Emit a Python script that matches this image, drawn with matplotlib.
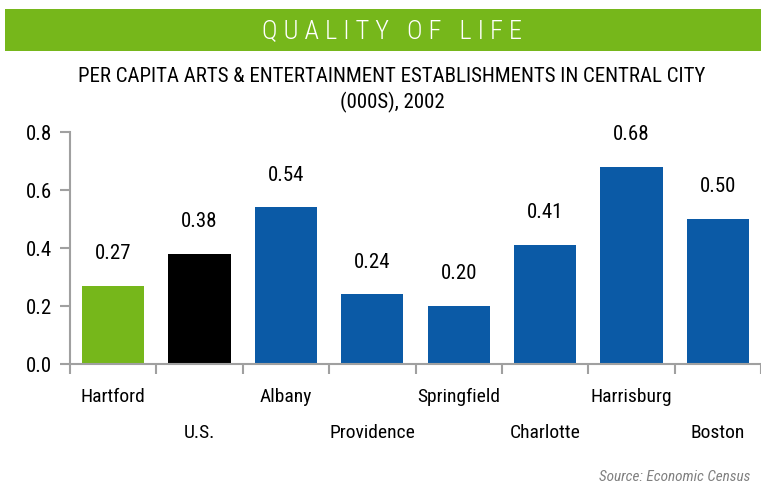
import matplotlib
matplotlib.use("Agg")
import matplotlib.pyplot as plt
import matplotlib.transforms as mtransforms
from matplotlib.patches import Rectangle

categories = ["Hartford", "U.S.", "Albany", "Providence", "Springfield", "Charlotte", "Harrisburg", "Boston"]
values = [0.27, 0.38, 0.54, 0.24, 0.20, 0.41, 0.68, 0.50]
value_labels = ["0.27", "0.38", "0.54", "0.24", "0.20", "0.41", "0.68", "0.50"]
yticks = [0.0, 0.2, 0.4, 0.6, 0.8]
ytick_labels = ["0.0", "0.2", "0.4", "0.6", "0.8"]

GREEN = "#76B71B"
BLUE = "#0B5AA6"
colors = [GREEN, "#000000"] + [BLUE] * 6
FONT = ["Roboto Condensed", "DejaVu Sans"]
plt.rcParams['font.family'] = FONT

W, H = 761, 485
fig = plt.figure(figsize=(W / 100, H / 100), dpi=100)

# banner
fig.patches.append(Rectangle((5 / W, 1 - 52 / H), 1 - 5 / W, 42 / H, transform=fig.transFigure,
                             facecolor=GREEN, edgecolor="none"))
fig.text(392 / W, 1 - 31 / H, "Q U A L I T Y   O F   L I F E",
         color="white", fontsize=19, fontweight="light", ha="center", va="center")
fig.text(392 / W, 1 - 77 / H, "PER CAPITA ARTS & ENTERTAINMENT ESTABLISHMENTS IN CENTRAL CITY",
         fontsize=15, ha="center", va="center")
fig.text(392 / W, 1 - 102 / H, "(000S), 2002", fontsize=15, ha="center", va="center")
fig.text(750 / W, 1 - 477 / H, "Source: Economic Census", fontsize=11, style="italic",
         color="#808080", ha="right", va="center")

ax = fig.add_axes([70 / W, 1 - 365 / H, 1 - 70 / W, (365 - 133) / H])
x = list(range(len(categories)))
ax.bar(x, values, width=0.72, color=colors)
ax.set_xlim(-0.5, 7.5)
ax.set_ylim(0, 0.8)
for s in ["top", "right"]:
    ax.spines[s].set_visible(False)
for s in ["left", "bottom"]:
    ax.spines[s].set_color("#A0A0A0")
    ax.spines[s].set_linewidth(1.5)
ax.set_yticks(yticks)
ax.set_yticklabels(ytick_labels, fontsize=15)
ax.set_xticks([i - 0.5 for i in range(len(categories) + 1)])
ax.set_xticklabels([])
ax.tick_params(axis="both", color="#A0A0A0", width=1.5, length=7)
ax.tick_params(axis="y", pad=6)

for xi, v, lab in zip(x, values, value_labels):
    ax.annotate(lab, (xi, v), xytext=(0, 24), textcoords="offset points",
                ha="center", va="center", fontsize=15)

trans = mtransforms.blended_transform_factory(ax.transData, ax.transAxes)
for i, c in enumerate(categories):
    yoff = -32 / 232 if i % 2 == 0 else -68 / 232
    ax.text(i, yoff, c, transform=trans, ha="center", va="center", fontsize=14)

fig.savefig("out.png", dpi=100)
